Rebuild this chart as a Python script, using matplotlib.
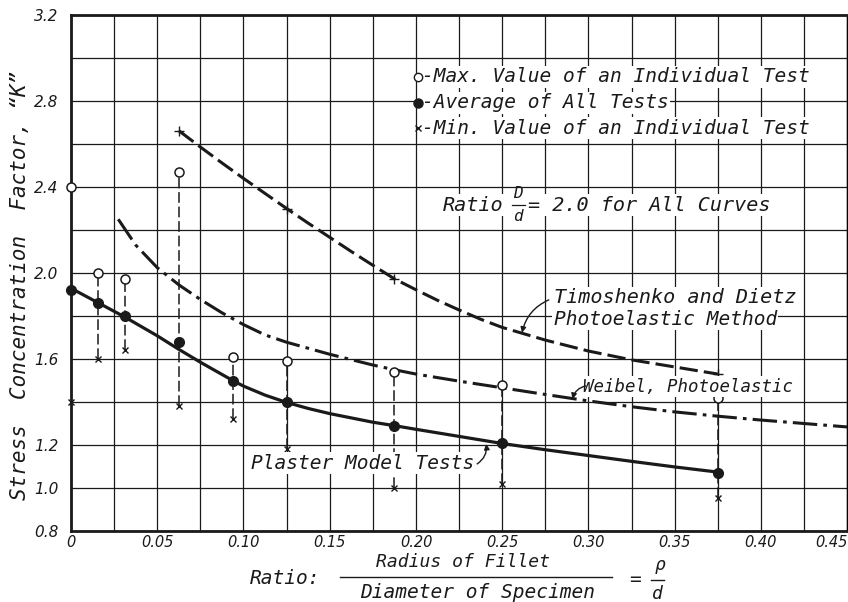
import matplotlib
matplotlib.use("Agg")
import matplotlib.pyplot as plt
from matplotlib.lines import Line2D

# ---------------- data ----------------
test_x = [0.0, 0.015625, 0.03125, 0.0625, 0.09375, 0.125, 0.1875, 0.25, 0.375]
max_vals = [2.40, 2.00, 1.97, 2.47, 1.61, 1.59, 1.54, 1.48, 1.42]
avg_vals = [1.92, 1.86, 1.80, 1.68, 1.50, 1.40, 1.29, 1.21, 1.07]
min_vals = [1.40, 1.60, 1.64, 1.38, 1.32, 1.18, 1.00, 1.02, 0.955]

plaster_x = [0.0, 0.015625, 0.03125, 0.05, 0.0625, 0.075, 0.09375, 0.1, 0.1125, 0.125,
             0.1375, 0.15, 0.175, 0.1875, 0.2, 0.225, 0.25, 0.275, 0.3, 0.325, 0.35, 0.375]
plaster_y = [1.929, 1.862, 1.795, 1.708, 1.645, 1.585, 1.500, 1.474, 1.432, 1.398,
             1.370, 1.346, 1.306, 1.29, 1.273, 1.24, 1.207, 1.178, 1.151, 1.124, 1.098, 1.074]

weibel_x = [0.0274, 0.0375, 0.05, 0.0625, 0.075, 0.0875, 0.1, 0.1125, 0.125, 0.1375,
            0.15, 0.1625, 0.175, 0.1875, 0.2, 0.225, 0.25, 0.275, 0.3, 0.325, 0.35, 0.375,
            0.4, 0.425, 0.45]
weibel_y = [2.25, 2.13, 2.025, 1.945, 1.877, 1.815, 1.76, 1.712, 1.678, 1.650,
            1.622, 1.597, 1.572, 1.55, 1.53, 1.497, 1.466, 1.435, 1.405, 1.378, 1.354, 1.334,
            1.316, 1.30, 1.284]

timo_x = [0.0625, 0.075, 0.0875, 0.1, 0.1125, 0.125, 0.1375, 0.15, 0.1625, 0.175,
          0.1875, 0.2, 0.2125, 0.225, 0.2375, 0.25, 0.275, 0.3, 0.325, 0.35, 0.375]
timo_y = [2.662, 2.586, 2.512, 2.44, 2.37, 2.30, 2.232, 2.166, 2.10, 2.036,
          1.973, 1.922, 1.873, 1.828, 1.785, 1.747, 1.688, 1.637, 1.596, 1.563, 1.530]
timo_mark_x = [0.0625, 0.125, 0.1875, 0.375]
timo_mark_y = [2.662, 2.30, 1.973, 1.530]

x_ticks = [0.0, 0.05, 0.10, 0.15, 0.20, 0.25, 0.30, 0.35, 0.40, 0.45]
x_tick_labels = ["0", "0.05", "0.10", "0.15", "0.20", "0.25", "0.30", "0.35", "0.40", "0.45"]
y_ticks = [0.8, 1.0, 1.2, 1.6, 2.0, 2.4, 2.8, 3.2]
y_tick_labels = ["0.8", "1.0", "1.2", "1.6", "2.0", "2.4", "2.8", "3.2"]

legend_labels = ["-Max. Value of an Individual Test",
                 "-Average of All Tests",
                 "-Min. Value of an Individual Test"]

# ---------------- figure ----------------
W, H = 848, 602
fig = plt.figure(figsize=(W / 100, H / 100), dpi=100)
fig.patch.set_facecolor("white")
ax = fig.add_axes([71 / W, (H - 531) / H, (W - 71) / W - 0.001, 516 / H])
ax.set_xlim(0, 0.45)
ax.set_ylim(0.8, 3.2)

TICKFONT = dict(family="DejaVu Sans", style="oblique")
FONT = dict(family="DejaVu Sans Mono", style="oblique")
INK = "#1a1a1a"

# grid
ax.set_xticks(x_ticks)
ax.set_xticks([i * 0.025 for i in range(19)], minor=True)
ax.set_yticks(y_ticks)
ax.set_yticks([0.8 + i * 0.2 for i in range(13)], minor=True)
ax.grid(True, which="both", color=INK, lw=0.9)
ax.set_axisbelow(True)
ax.tick_params(which="both", length=0)
ax.tick_params(axis="x", pad=3)
ax.tick_params(axis="y", pad=9)
ax.set_xticklabels(x_tick_labels, fontsize=10.5, color=INK, **TICKFONT)
ax.set_yticklabels(y_tick_labels, fontsize=11, color=INK, **TICKFONT)
ax.get_xticklabels()[-1].set_horizontalalignment("right")
for s in ["left", "bottom", "top"]:
    ax.spines[s].set_linewidth(2.0)
    ax.spines[s].set_color(INK)
ax.spines["right"].set_linewidth(1.0)

# vertical range lines
for xv, hi, lo in zip(test_x[1:], max_vals[1:], min_vals[1:]):
    ax.plot([xv, xv], [lo, hi], color=INK, lw=1.1, dashes=(7, 2.5), zorder=3)

# curves
ax.plot(plaster_x, plaster_y, color=INK, lw=2.3, solid_capstyle="round",
        solid_joinstyle="round", zorder=4)
ax.plot(weibel_x, weibel_y, color=INK, lw=2.2, dashes=(8, 2, 1.2, 2), zorder=4)
ax.plot(timo_x, timo_y, color=INK, lw=2.2, dashes=(6, 2), zorder=4)
ax.plot(timo_mark_x, timo_mark_y, ls="none", marker="+", ms=7, mew=1.0, color=INK, zorder=5)

# markers
ax.plot(test_x, max_vals, ls="none", marker="o", ms=6.5, mfc="white", mec=INK, mew=1.1,
        zorder=6, clip_on=False)
ax.plot(test_x, avg_vals, ls="none", marker="o", ms=7, mfc=INK, mec=INK, zorder=6,
        clip_on=False)
ax.plot(test_x, min_vals, ls="none", marker="x", ms=5, mew=1.0, color=INK, zorder=6,
        clip_on=False)

# legend block
bb = dict(facecolor="white", edgecolor="none", pad=1.0)
leg_y = [2.912, 2.791, 2.674]
leg_style = [dict(marker="o", ms=6, mfc="white", mec=INK, mew=1.0),
             dict(marker="o", ms=6.5, mfc=INK, mec=INK),
             dict(marker="x", ms=5, mew=1.0, color=INK)]
for yv, lab, st in zip(leg_y, legend_labels, leg_style):
    ax.text(0.2035, yv, lab, fontsize=14, color=INK, va="center", ha="left", bbox=bb,
            zorder=7, **FONT)
    ax.plot([0.2012], [yv], ls="none", zorder=8, **st)

# Ratio D/d text
ax.text(0.2155, 2.316, "Ratio", fontsize=14.5, color=INK, va="center", ha="left", bbox=bb,
        zorder=7, **FONT)
ax.text(0.2592, 2.368, "D", fontsize=11.5, color=INK, va="center", ha="center", zorder=7, **FONT)
ax.text(0.2592, 2.262, "d", fontsize=11.5, color=INK, va="center", ha="center", zorder=7, **FONT)
ax.plot([0.2555, 0.2630], [2.316, 2.316], color=INK, lw=0.9, zorder=7)
ax.text(0.2650, 2.316, "= 2.0 for All Curves", fontsize=14.5, color=INK, va="center",
        ha="left", bbox=bb, zorder=7, **FONT)

# curve annotations
ax.text(0.3505, 1.884, "Timoshenko and Dietz", fontsize=14.5, color=INK, va="center",
        ha="center", bbox=bb, zorder=7, **FONT)
ax.text(0.3445, 1.786, "Photoelastic Method", fontsize=14, color=INK, va="center",
        ha="center", bbox=bb, zorder=7, **FONT)
ax.annotate("", xy=(0.2615, 1.722), xytext=(0.2770, 1.875),
            arrowprops=dict(arrowstyle="-|>", color=INK, lw=1.0, mutation_scale=8,
                            connectionstyle="arc3,rad=0.25", shrinkA=0, shrinkB=0),
            zorder=8)
ax.text(0.358, 1.471, "Weibel, Photoelastic", fontsize=12.5, color=INK, va="center",
        ha="center", bbox=bb, zorder=7, **FONT)
ax.annotate("", xy=(0.2908, 1.414), xytext=(0.2985, 1.475),
            arrowprops=dict(arrowstyle="-|>", color=INK, lw=1.0, mutation_scale=8,
                            connectionstyle="arc3,rad=0.3", shrinkA=0, shrinkB=0),
            zorder=8)
ax.text(0.169, 1.116, "Plaster Model Tests", fontsize=14, color=INK, va="center",
        ha="center", bbox=bb, zorder=7, **FONT)
ax.annotate("", xy=(0.2407, 1.205), xytext=(0.2355, 1.112),
            arrowprops=dict(arrowstyle="-|>", color=INK, lw=1.0, mutation_scale=8,
                            connectionstyle="arc3,rad=0.3", shrinkA=0, shrinkB=0),
            zorder=8)

# y-axis label
fig.text(20 / W, 1 - 285 / H, "Stress  Concentration  Factor, \u201cK\u201d", rotation=90,
         fontsize=15, color=INK, va="center", ha="center", **FONT)

# x-axis label (stacked fraction)
def ftext(px, py, s, size=14, ha="center"):
    fig.text(px / W, 1 - py / H, s, fontsize=size, color=INK, va="center", ha=ha, **FONT)

ftext(250, 578, "Ratio:", size=14, ha="left")
ftext(463, 562, "Radius of Fillet", size=13)
ftext(478, 593, "Diameter of Specimen", size=14)
fig.add_artist(Line2D([340 / W, 612 / W], [1 - 577 / H] * 2, color=INK, lw=1.0))
ftext(635, 579, "=")
ftext(660, 565, "\u03c1", size=13)
ftext(657, 594, "d", size=13)
fig.add_artist(Line2D([651 / W, 664 / W], [1 - 580 / H] * 2, color=INK, lw=1.0))

fig.savefig("out.png", dpi=100, facecolor="white")
